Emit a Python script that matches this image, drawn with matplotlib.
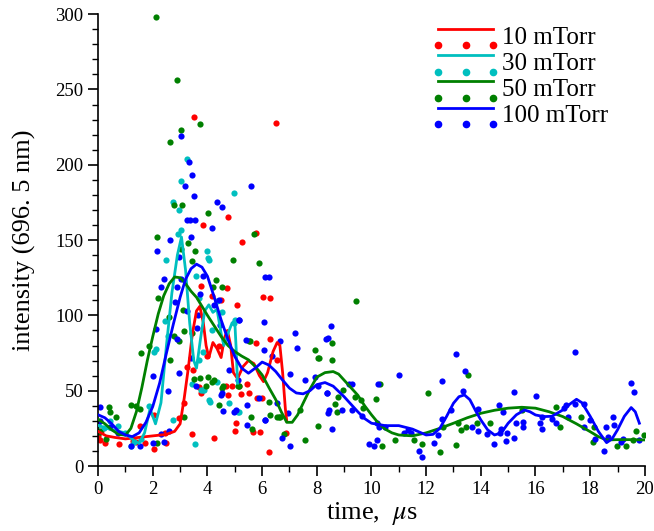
import numpy as np
import matplotlib
matplotlib.use("Agg")
import matplotlib.pyplot as plt
from matplotlib.lines import Line2D
from matplotlib.legend_handler import HandlerBase
from matplotlib.ticker import MultipleLocator

plt.rcParams['font.family'] = ['Liberation Serif', 'DejaVu Serif']
plt.rcParams['mathtext.fontset'] = 'stix'

labels = ['10 mTorr', '30 mTorr', '50 mTorr', '100 mTorr']
colors = ['#ff0000', '#00bfbf', '#008000', '#0000ff']

# measured points (time in us, intensity)
red_t = [0.0, 0.06, 0.12, 0.24, 0.76, 1.27, 1.4, 1.52, 1.72, 2.04, 2.05, 2.46, 2.49, 2.97,
         3.14, 3.27, 3.45, 3.48, 3.51, 3.7, 3.75, 3.77, 3.83, 3.98, 4.18, 4.24, 4.42, 4.48,
         4.67, 4.73, 4.74, 4.74, 4.91, 5.02, 5.03, 5.07, 5.15, 5.22, 5.26, 5.44, 5.52, 5.66,
         5.76, 5.78, 5.8, 5.94, 6.0, 6.02, 6.24, 6.27, 6.28, 6.51, 6.55, 6.88]
red_i = [20, 17, 23, 15, 14.9, 16.6, 16, 26.6, 15.5, 34, 11, 22, 15.5, 32,
         41.7, 65.6, 21, 63.9, 232, 52.3, 119.5, 48.3, 160, 72.7, 112.6, 18.4, 79.4, 110.4,
         52.8, 118, 165, 47.2, 52.8, 23.5, 28.4, 107, 52.8, 47.9, 149, 54.5, 48.5, 22.8,
         155, 81.6, 45, 22.8, 45, 112.2, 9.5, 111.3, 84.5, 228, 70.5, 21.7]

cyan_t = [0.0, 0.2, 0.45, 0.73, 1.0, 1.21, 1.3, 1.58, 1.85, 2.06, 2.12, 2.43, 2.47, 2.55,
          2.74, 2.75, 2.91, 2.96, 3.03, 3.04, 3.27, 3.43, 3.55, 3.58, 3.7, 3.7, 3.76, 3.82,
          3.84, 3.88, 4.0, 4.01, 4.04, 4.06, 4.08, 4.18, 4.36, 4.36, 4.55, 4.79, 4.96, 4.97,
          5.0, 5.12, 5.15]
cyan_i = [27, 25, 30, 26.4, 22, 13.6, 16, 18, 40, 76, 78, 96, 137, 86,
          30.6, 175, 154, 170, 189, 157, 204, 54.5, 14.6, 126, 111.6, 70.5, 50.6, 50.6,
          76, 50.6, 142.6, 138, 137, 44, 42.8, 90.5, 109.3, 56, 102, 41.7, 181, 95,
          96.7, 36, 36]

green_t = [0.02, 0.06, 0.28, 0.4, 0.42, 0.64, 1.21, 1.37, 1.55, 1.56, 1.88, 2.12, 2.15, 2.17,
           2.18, 2.61, 2.62, 2.64, 2.78, 2.79, 2.87, 2.95, 3.02, 3.04, 3.08, 3.09, 3.15, 3.16,
           3.29, 3.44, 3.44, 3.5, 3.54, 3.71, 3.73, 3.94, 4.01, 4.03, 4.18, 4.19, 4.24, 4.33,
           4.43, 4.52, 4.55, 4.57, 4.93, 5.12, 5.15, 5.52, 5.54, 5.58, 5.64, 5.69, 5.89, 6.24,
           6.3, 6.53, 6.6, 6.67, 6.79, 7.39, 7.58, 7.92, 8.04, 8.06, 8.08, 8.54, 8.57, 8.67,
           8.73, 8.76, 8.97, 9.39, 9.43, 9.61, 9.7, 10.18, 10.33, 10.39, 10.87, 11.54, 11.84,
           12.06, 12.52, 12.6, 13.09, 13.15, 13.27, 13.47, 13.52, 13.85, 14.33, 15.49, 16.74,
           16.88, 17.67, 18.12, 18.14, 18.97, 19.3, 19.58, 19.66, 19.98]
green_i = [23, 22.8, 18, 39.5, 36, 32.8, 40.6, 40, 38, 75, 79.4, 298, 15, 152,
           111.6, 99, 215, 70.5, 86.5, 173, 256, 82.7, 223, 144, 173, 103.8, 32.8, 89.6,
           148, 88.2, 136, 57.6, 143, 58.3, 227, 52.8, 59.4, 168, 56.1, 118.8, 57.2, 123.3,
           40.6, 118.8, 51.7, 52.8, 137, 52.8, 52.8, 82.7, 82.7, 32.8, 24.4, 154, 135, 42.8,
           34, 32.8, 32.8, 32.8, 21.3, 37.2, 17.3, 76.7, 26.6, 71.6, 71.4, 81.6, 70.5, 41.2,
           36.1, 46.1, 50.6, 46.1, 109.5, 43.9, 38.4, 44.3, 54.5, 13.3, 17.3, 17.3, 14.4,
           48.3, 9.3, 26.2, 14, 28.4, 23.9, 25.7, 60.5, 28.8, 28.4, 37.2, 39.5,
           26.2, 32.4, 16.2, 26.2, 13.5, 13.5, 17.3, 23.3, 20.6]

blue_t = [0.06, 0.08, 0.42, 0.73, 1.21, 1.52, 2.0, 2.02, 2.12, 2.16, 2.29, 2.3, 2.41, 2.41,
          2.56, 2.61, 2.63, 2.81, 2.9, 2.9, 2.96, 2.97, 3.02, 3.03, 3.18, 3.24, 3.27, 3.31,
          3.37, 3.39, 3.4, 3.43, 3.51, 3.53, 3.58, 3.6, 3.67, 3.73, 3.85, 4.15, 4.25, 4.35,
          4.43, 4.45, 4.49, 4.53, 4.55, 4.57, 4.79, 4.97, 5.03, 5.1, 5.15, 5.17, 5.4, 5.45,
          5.45, 5.58, 5.88, 6.06, 6.06, 6.1, 6.12, 6.12, 6.25, 6.36, 6.56, 6.67, 6.73, 6.95,
          7.02, 7.03, 7.21, 7.27, 7.58, 7.94, 8.06, 8.33, 8.36, 8.36, 8.4, 8.42, 8.46, 8.52,
          8.55, 8.91, 9.19, 9.27, 9.3, 9.64, 9.91, 10.1, 10.19, 10.22, 10.24, 10.28, 10.48,
          11.02, 11.18, 11.33, 11.45, 11.74, 11.84, 12.27, 12.42, 12.57, 12.59, 12.91, 13.11,
          13.33, 13.42, 13.66, 13.88, 13.9, 14.22, 14.48, 14.67, 14.69, 14.75, 14.82, 14.91,
          14.94, 15.21, 15.21, 15.28, 15.53, 15.56, 16.02, 16.18, 16.22, 16.25, 16.61, 16.76,
          17.05, 17.13, 17.19, 17.43, 17.43, 17.76, 17.79, 17.99, 18.16, 18.51, 18.58, 18.64,
          18.85, 18.87, 19.11, 19.21, 19.5, 19.6, 19.79]
blue_i = [30, 39.5, 26, 22, 13, 13, 15.5, 60, 91, 143, 21, 119, 124, 16,
          50, 23.5, 150, 108.6, 119, 84, 61.6, 139, 219, 124, 186, 163, 102.7, 202,
          163, 71.6, 152, 193, 179, 163, 52.8, 91.6, 100.4, 114, 126, 158, 106.9, 175,
          110.4, 93.8, 47.2, 172, 48.3, 36.8, 63.9, 36.1, 37.2, 57.2, 96.7, 96.7, 83.8, 27,
          40.6, 186, 45, 95.3, 77.2, 30.6, 125.5, 30.6, 125.5, 72.7, 41.7, 82.7, 18.4, 35,
          61.2, 13.3, 88.3, 78.3, 57.2, 59.4, 52.8, 84.3, 48.3, 48.4, 35, 84.7, 37.2, 92.7,
          24.4, 37.2, 54.5, 54.5, 37.2, 33.3, 14.4, 13.3, 28.4, 17.3, 54.5, 26.2, 26.2,
          60.3, 21.7, 23.9, 21.7, 10.2, 6.2, 15.5, 20.6, 31, 56.3, 37.2, 74.5,
          50.1, 63.4, 26.2, 38.1, 23.5, 21.3, 14.4, 40.4, 21.7, 24.4, 36.1, 16.6,
          22.2, 49.4, 18.4, 28.4, 25.7, 29.3, 46.6, 28.4, 24.4, 32.4, 31, 28.8,
          38.4, 40.4, 32.4, 75.4, 41.2, 26.2, 41.2, 30.6, 17.7, 10.2, 26.2, 19.5,
          32.4, 27.3, 16.2, 17.7, 55.4, 49.4, 17.3]

# fitted curves
red_fit_t = [0.0, 0.3, 0.6, 1.0, 1.5, 2.0, 2.5, 2.8, 3.0, 3.15, 3.3, 3.45, 3.6, 3.72, 3.85,
             3.95, 4.05, 4.2, 4.35, 4.5, 4.62, 4.73, 4.85, 4.95, 5.1, 5.3, 5.5, 5.7, 5.9,
             6.05, 6.2, 6.4, 6.55, 6.65, 6.75, 6.85, 6.9]
red_fit_i = [23, 20, 19, 18, 19, 20, 21, 23, 28, 45, 65, 88, 103, 106, 95,
             80, 72, 82, 78, 72, 85, 90, 80, 62, 58, 66, 70, 68, 60,
             56, 62, 76, 82, 80, 62, 38, 30]

cyan_fit_t = [0.0, 0.5, 1.0, 1.3, 1.5, 1.7, 1.9, 2.1, 2.3, 2.5, 2.7, 2.9, 3.05, 3.2, 3.35,
              3.5, 3.6, 3.75, 3.9, 4.05, 4.2, 4.35, 4.5, 4.6, 4.75, 4.9, 5.0, 5.05, 5.1]
cyan_fit_i = [27, 24, 22, 17, 15, 22, 38, 28, 42, 80, 115, 140, 152, 130, 95,
              70, 65, 85, 103, 107, 102, 104, 88, 80, 88, 95, 96, 78, 55]

green_fit_t = [0.0, 0.25, 0.5, 0.75, 1.0, 1.2, 1.4, 1.6, 1.8, 2.0, 2.2, 2.4, 2.6, 2.8, 3.0,
               3.2, 3.4, 3.6, 3.8, 4.0, 4.25, 4.5, 4.75, 5.0, 5.25, 5.5, 5.75, 6.0, 6.25,
               6.5, 6.7, 6.9, 7.1, 7.3, 7.5, 7.75, 8.0, 8.3, 8.6, 8.8, 9.0, 9.25, 9.5, 9.75,
               10.0, 10.25, 10.5, 10.75, 11.0, 11.5, 12.0, 12.5, 13.0, 13.5, 14.0, 14.5, 15.0,
               15.5, 16.0, 16.5, 17.0, 17.5, 18.0, 18.3, 18.6, 19.0, 19.5, 20.0]
green_fit_i = [31, 28, 24, 21, 20.5, 25, 36, 52, 70, 86, 101, 113, 121, 125.5, 125,
               121, 116, 112, 106, 100, 93, 86, 80, 76, 73, 70.5, 66, 60.5, 52,
               44, 36, 29, 29, 34, 41.7, 51, 59, 62, 62.7, 61, 57, 52, 47, 40,
               34, 28.5, 24.5, 22, 20.6, 20, 22, 25, 28.4, 32, 35, 37, 38.4,
               39, 38.4, 36, 32.8, 28, 22.8, 19.5, 17.3, 17.5, 17.5, 17.3]

blue_fit_t = [0.0, 0.25, 0.5, 0.75, 1.0, 1.25, 1.5, 1.75, 2.0, 2.25, 2.5, 2.75, 3.0, 3.2,
              3.4, 3.6, 3.8, 4.0, 4.25, 4.5, 4.75, 5.0, 5.25, 5.5, 5.75, 6.0, 6.25, 6.5,
              6.75, 7.0, 7.25, 7.5, 7.75, 8.0, 8.3, 8.6, 9.0, 9.25, 9.5, 9.75, 10.0, 10.5,
              11.0, 11.5, 12.0, 12.25, 12.5, 12.75, 13.0, 13.2, 13.4, 13.6, 13.8, 14.0, 14.25,
              14.5, 14.75, 15.0, 15.3, 15.6, 15.8, 16.0, 16.3, 16.6, 17.0, 17.25, 17.5, 17.7,
              18.0, 18.3, 18.6, 18.8, 19.0, 19.25, 19.5, 19.65, 19.8]
blue_fit_i = [34, 32, 28, 23, 20.6, 19.5, 22, 29, 39.5, 55, 75, 94, 112, 124,
              131, 134, 132, 126, 112, 97, 84, 72.7, 65, 61.6, 65, 69, 67, 62.7,
              57, 51.7, 48.5, 47.9, 50, 54, 55.4, 53, 46, 41, 36, 31.5, 28.4, 26.8,
              26.8, 24.5, 20.6, 21, 25, 33, 41.7, 46, 47.2, 44, 37, 30.6, 24,
              20.6, 22, 28.4, 34, 37.2, 36, 33.9, 32.8, 33, 37.2, 41, 44.3, 42,
              33, 23, 15.5, 18, 24, 33, 38.8, 36, 28.4]


class LineAndDots(HandlerBase):
    # legend entry: fit line on top, three data dots under it
    def create_artists(self, legend, orig_handle, xdescent, ydescent, width,
                       height, fontsize, trans):
        c = orig_handle[0].get_color()
        y_line = height * 0.85 - ydescent
        y_dots = -height * 0.1 - ydescent
        ln = Line2D([-xdescent, width - xdescent], [y_line, y_line],
                    color=c, lw=2, transform=trans)
        xs = np.linspace(-xdescent, width - xdescent, 3)
        dots = Line2D(xs, [y_dots] * 3, ls='none', marker='o', ms=4.5,
                      color=c, transform=trans)
        return [ln, dots]


fig = plt.figure(figsize=(6.54, 5.31), dpi=100)
ax = fig.add_axes([0.150, 0.1224, 0.836, 0.851])

points = [(red_t, red_i), (cyan_t, cyan_i), (green_t, green_i), (blue_t, blue_i)]
fits = [(red_fit_t, red_fit_i), (cyan_fit_t, cyan_fit_i),
        (green_fit_t, green_fit_i), (blue_fit_t, blue_fit_i)]

handles = []
for (pt, pi), (ft, fi), c in zip(points, fits, colors):
    sc = ax.scatter(pt, pi, s=20, color=c, linewidths=0, zorder=2)
    ln, = ax.plot(ft, fi, color=c, lw=2, zorder=3)
    handles.append((ln, sc))

ax.set_xlim(0, 20)
ax.set_ylim(0, 300)
ax.xaxis.set_major_locator(MultipleLocator(2))
ax.xaxis.set_minor_locator(MultipleLocator(1))
ax.yaxis.set_major_locator(MultipleLocator(50))
ax.yaxis.set_minor_locator(MultipleLocator(10))
ax.tick_params(which='major', direction='out', length=7, width=1.2, labelsize=13.5)
ax.tick_params(which='minor', direction='out', length=4, width=1.0)
for s in ['top', 'right']:
    ax.spines[s].set_visible(False)
for s in ['left', 'bottom']:
    ax.spines[s].set_linewidth(1.2)

ax.set_xlabel(r'time,  $\mu$s', fontsize=19, labelpad=2)
ax.set_ylabel('intensity (696. 5 nm)', fontsize=19, labelpad=14)

ax.legend(handles, labels, handler_map={tuple: LineAndDots()}, loc='upper left',
          bbox_to_anchor=(0.59, 1.012), frameon=False, fontsize=18,
          handlelength=2.2, handletextpad=0.35, labelspacing=0.15, borderpad=0.2)

fig.savefig('out.png', dpi=100)
